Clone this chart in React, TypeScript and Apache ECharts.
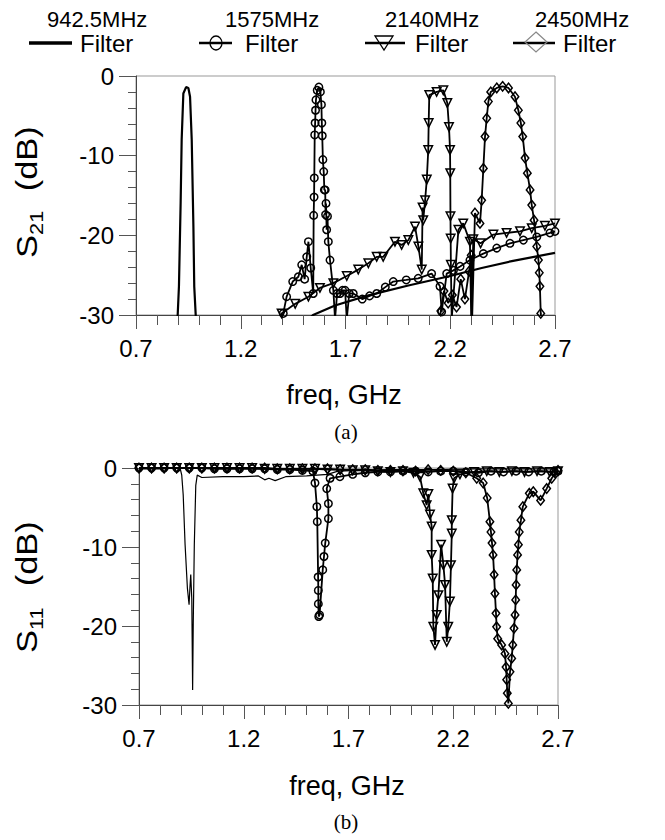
import React, { useEffect, useRef } from 'react';
import * as echarts from 'echarts';

// ---- axis / label data ----
const X0 = 0.7; // first frequency tick (GHz)
const xTickLabels = ['0.7', '1.2', '1.7', '2.2', '2.7'];
const legendFreqs = ['942.5MHz', '1575MHz', '2140MHz', '2450MHz'];
const legendName = 'Filter';
const xName = 'freq, GHz';
const captions = ['(a)', '(b)'];

// ---- S21 (dB) vs freq (GHz) ----
const s21_942 = [
  [0.70, -60], [0.85, -45], [0.899, -30], [0.905, -26.4], [0.913, -16], [0.918, -8], [0.926, -2.2],
  [0.939, -1.4], [0.950, -1.5], [0.958, -2.6], [0.966, -8], [0.974, -18.9], [0.978, -26.4], [0.985, -30],
  [1.00, -40], [1.30, -36], [1.545, -30], [1.65, -28.8], [1.80, -27.6], [2.00, -26.3], [2.20, -25.1],
  [2.35, -24.1], [2.50, -23.2], [2.70, -22.2],
];
const s21_1575 = [
  [1.30, -40], [1.403, -29.8], [1.419, -27.7], [1.448, -25.8], [1.475, -25.2], [1.491, -23.7], [1.505, -25.5],
  [1.515, -22.7], [1.523, -20.8], [1.534, -24.1], [1.546, -27.3], [1.548, -17.5], [1.550, -15.2], [1.551, -12.8],
  [1.553, -7.4], [1.555, -5.9], [1.557, -4.3], [1.559, -3.0], [1.565, -1.8], [1.573, -1.4], [1.580, -2.0],
  [1.585, -3.6], [1.587, -5.9], [1.589, -7.5], [1.592, -10.5], [1.596, -12.0], [1.599, -14.3], [1.603, -14.3],
  [1.605, -17.4], [1.607, -16.0], [1.610, -19.3], [1.614, -17.6], [1.618, -20.8], [1.626, -23.1], [1.642, -26.9],
  [1.650, -30.5], [1.660, -27.3], [1.674, -27.3], [1.686, -26.9], [1.698, -26.9], [1.706, -30.5], [1.718, -27.3],
  [1.737, -27.3], [1.78, -28.0], [1.815, -27.6], [1.849, -27.3], [1.89, -26.5], [1.928, -25.8], [1.99, -25.6],
  [2.047, -25.4], [2.111, -24.8], [2.151, -26.4], [2.159, -29.6], [2.183, -24.8], [2.215, -24.4], [2.247, -23.9],
  [2.294, -23.1], [2.358, -22.3], [2.422, -21.6], [2.485, -21.0], [2.549, -20.6], [2.613, -20.2], [2.676, -19.7],
  [2.70, -19.5],
];
const s21_2140 = [
  [1.30, -40], [1.395, -29.8], [1.46, -28.6], [1.523, -27.7], [1.578, -26.6], [1.642, -26.0], [1.706, -25.1],
  [1.761, -24.3], [1.809, -23.5], [1.849, -22.7], [1.880, -22.7], [1.936, -20.8], [1.968, -21.2], [2.000, -20.6],
  [2.032, -18.9], [2.048, -21.4], [2.064, -24.3], [2.068, -16.5], [2.071, -18.1], [2.080, -15.6], [2.088, -13.0],
  [2.095, -9.3], [2.097, -5.9], [2.100, -2.4], [2.135, -2.0], [2.167, -1.8], [2.186, -3.4], [2.194, -6.4],
  [2.199, -9.3], [2.200, -12.2], [2.201, -17.6], [2.202, -20.4], [2.203, -23.7], [2.207, -30.5], [2.239, -19.3],
  [2.262, -18.5], [2.294, -20.8], [2.300, -30.5], [2.310, -20.5], [2.345, -21.0], [2.406, -19.9], [2.469, -19.7],
  [2.533, -19.5], [2.589, -19.1], [2.652, -18.8], [2.70, -18.5],
];
const s21_2450 = [
  [2.05, -40], [2.14, -33], [2.155, -29.5], [2.17, -27.0], [2.19, -28.5], [2.21, -27.5], [2.23, -29.0],
  [2.25, -25.5], [2.27, -28.0], [2.29, -24.5], [2.30, -22.5], [2.304, -31], [2.318, -17.2], [2.342, -18.5],
  [2.350, -15.6], [2.358, -11.6], [2.366, -7.6], [2.374, -5.3], [2.382, -3.2], [2.393, -2.0], [2.422, -1.5],
  [2.450, -1.3], [2.478, -1.5], [2.509, -2.6], [2.525, -4.3], [2.537, -5.9], [2.546, -7.6], [2.557, -10.3],
  [2.568, -12.2], [2.581, -14.3], [2.589, -16.2], [2.600, -18.1], [2.613, -21.4], [2.621, -23.1], [2.625, -24.7],
  [2.628, -26.4], [2.632, -29.8], [2.66, -38], [2.70, -45],
];

// ---- S11 (dB) vs freq (GHz) ----
const s11_942 = [
  [0.70, -0.1], [0.80, -0.1], [0.896, 0], [0.904, -0.9], [0.911, -3.4], [0.920, -9.7], [0.931, -15.2],
  [0.939, -17.3], [0.943, -15.2], [0.947, -13.5], [0.952, -16.6], [0.956, -28.1], [0.959, -19.5], [0.964, -9.7],
  [0.971, -2.2], [0.978, -0.9], [1.00, -1.2], [1.10, -1.1], [1.20, -1.1], [1.27, -1.0], [1.30, -1.5],
  [1.32, -1.3], [1.35, -1.6], [1.40, -1.1], [1.50, -1.0], [1.55, -0.9], [1.60, -0.8], [1.65, -0.4],
  [1.75, -0.3], [1.90, -0.2], [2.10, -0.2], [2.30, -0.1], [2.50, -0.1], [2.70, -0.1],
];
const s11_1575 = [
  [0.70, 0], [0.76, 0], [0.82, 0], [0.88, 0], [0.94, 0], [1.00, 0], [1.06, -0.1], [1.12, -0.1], [1.18, -0.1],
  [1.24, -0.1], [1.30, -0.1], [1.36, -0.2], [1.42, -0.2], [1.48, -0.3], [1.53, -0.4], [1.540, -1.9],
  [1.549, -4.9], [1.551, -6.8], [1.555, -13.8], [1.556, -15.5], [1.556, -17.2], [1.558, -18.8], [1.562, -18.6],
  [1.577, -12.9], [1.583, -11.2], [1.589, -9.5], [1.604, -6.4], [1.604, -4.5], [1.596, -2.6], [1.612, -1.3],
  [1.659, -1.1], [1.72, -0.8], [1.78, -0.6], [1.84, -0.5], [1.90, -0.5], [1.96, -0.4], [2.02, -0.4],
  [2.08, -0.5], [2.14, -0.4], [2.20, -0.4], [2.26, -0.5], [2.32, -0.6], [2.38, -0.4], [2.44, -0.5],
  [2.50, -0.4], [2.56, -0.5], [2.62, -0.4], [2.68, -0.5], [2.70, -0.4],
];
const s11_2140 = [
  [0.70, 0], [0.76, 0], [0.82, 0], [0.88, 0], [0.94, 0], [1.00, 0], [1.06, 0], [1.12, 0], [1.18, 0], [1.24, 0],
  [1.30, -0.1], [1.36, -0.1], [1.42, -0.1], [1.48, -0.1], [1.54, -0.1], [1.60, -0.2], [1.66, -0.2], [1.72, -0.3],
  [1.78, -0.3], [1.84, -0.4], [1.90, -0.5], [1.96, -0.4], [2.01, -0.6], [2.041, -1.1], [2.057, -3.2],
  [2.073, -4.7], [2.081, -3.3], [2.089, -5.9], [2.097, -7.4], [2.097, -11.0], [2.102, -14.0], [2.105, -20.1],
  [2.113, -22.4], [2.121, -18.6], [2.129, -16.1], [2.142, -9.7], [2.153, -12.3], [2.161, -14.8], [2.169, -22.0],
  [2.176, -20.1], [2.184, -16.9], [2.189, -12.3], [2.193, -8.3], [2.193, -6.6], [2.197, -2.6], [2.204, -1.3],
  [2.232, -0.8], [2.30, -0.5], [2.36, -0.4], [2.42, -0.5], [2.48, -0.4], [2.54, -0.5], [2.60, -0.4],
  [2.66, -0.5], [2.70, -0.4],
];
const s11_2450 = [
  [0.70, 0], [0.76, 0], [0.82, 0], [0.88, 0], [0.94, 0], [1.00, 0], [1.06, 0], [1.12, 0], [1.18, 0], [1.24, 0],
  [1.30, 0], [1.36, -0.1], [1.42, -0.1], [1.48, -0.1], [1.54, -0.1], [1.60, -0.1], [1.66, -0.2], [1.72, -0.2],
  [1.78, -0.2], [1.84, -0.3], [1.90, -0.3], [1.96, -0.3], [2.02, -0.4], [2.08, -0.2], [2.14, -0.3], [2.20, -0.4],
  [2.26, -0.6], [2.312, -1.3], [2.343, -1.9], [2.362, -3.8], [2.375, -6.8], [2.380, -8.1], [2.385, -9.5],
  [2.390, -11.0], [2.395, -13.5], [2.399, -15.9], [2.404, -18.4], [2.407, -20.1], [2.412, -21.6], [2.431, -22.4],
  [2.447, -23.5], [2.452, -25.2], [2.455, -26.8], [2.458, -28.5], [2.463, -29.8], [2.471, -25.8], [2.479, -24.1],
  [2.484, -22.4], [2.490, -20.3], [2.495, -18.6], [2.498, -16.7], [2.500, -14.8], [2.503, -12.9], [2.507, -11.0],
  [2.511, -9.7], [2.515, -8.1], [2.523, -6.6], [2.532, -4.9], [2.563, -3.2], [2.582, -3.0], [2.617, -4.1],
  [2.646, -2.6], [2.670, -1.3], [2.690, -0.6], [2.70, -0.3],
];

const FONT = '"Liberation Sans", Arial, sans-serif';
const SERIF = '"Liberation Serif", "Times New Roman", serif';

type Mk = { symbol: string; size: any; rotate?: number; width: number };
const MARK: Record<string, Mk> = {
  plain: { symbol: 'none', size: 0, width: 2 },
  circle: { symbol: 'circle', size: 7.5, width: 1.8 },
  tri: { symbol: 'triangle', size: 8.5, rotate: 180, width: 1.8 },
  dia: { symbol: 'diamond', size: [7.5, 9.5], width: 1.8 },
};

function mkSeries(data: number[][], idx: number, kind: string, width?: number) {
  const m = MARK[kind];
  return {
    type: 'line',
    xAxisIndex: idx,
    yAxisIndex: idx,
    data: data.map(([f, v]) => [f - X0, v]),
    symbol: m.symbol,
    symbolSize: m.size,
    symbolRotate: m.rotate || 0,
    showSymbol: m.symbol !== 'none',
    showAllSymbol: true,
    clip: true,
    silent: true,
    lineStyle: { color: '#000', width: width ?? m.width },
    itemStyle: { color: 'rgba(0,0,0,0)', borderColor: '#000', borderWidth: 1.5 },
    emphasis: { disabled: true },
  };
}

function xAxisCfg(gridIndex: number) {
  return {
    type: 'value', gridIndex, min: 0, max: 2, interval: 0.5,
    axisLine: { onZero: false, lineStyle: { color: '#444', width: 1 } },
    axisTick: { show: true, length: 14, lineStyle: { color: '#555' } },
    minorTick: { show: true, splitNumber: 5, length: 10, lineStyle: { color: '#555' } },
    splitLine: { show: false },
    axisLabel: {
      margin: 21, color: '#000', fontSize: 24, fontFamily: FONT,
      formatter: (v: number) => xTickLabels[Math.round(v / 0.5)] ?? '',
    },
  };
}
function yAxisCfg(gridIndex: number) {
  return {
    type: 'value', gridIndex, min: -30, max: 0, interval: 10,
    axisLine: { show: true, onZero: false, lineStyle: { color: '#444', width: 1 } },
    axisTick: { show: true, length: 17, lineStyle: { color: '#555' } },
    minorTick: { show: true, splitNumber: 5, length: 8, lineStyle: { color: '#555' } },
    splitLine: { show: false },
    axisLabel: { margin: 22, color: '#000', fontSize: 24, fontFamily: FONT },
  };
}

function txt(x: number, y: number, text: string, size: number, align = 'left', family = FONT) {
  return {
    type: 'text', x, y, silent: true,
    style: {
      text, font: `${size}px ${family}`, fill: '#000',
      textAlign: align, align, textVerticalAlign: 'middle', verticalAlign: 'middle',
    },
  };
}

function yName(x: number, y: number, sub: string) {
  return {
    type: 'group', x, y, rotation: Math.PI / 2, scaleX: 1.15, silent: true,
    children: [
      txt(0, 0, 'S', 30),
      txt(20, 9, sub, 19),
      txt(58, 0, '(dB)', 30),
    ],
  };
}

export default function App() {
  const ref = useRef<HTMLDivElement>(null);
  useEffect(() => {
    if (!ref.current) return;
    const chart = echarts.init(ref.current, null, { renderer: 'svg' });
    const legendX = [
      { label: 47, lineA: 29, lineB: 72, name: 80 },
      { label: 225, lineA: 199, lineB: 232, name: 245 },
      { label: 385, lineA: 365, lineB: 405, name: 415 },
      { label: 535, lineA: 513, lineB: 555, name: 563 },
    ];
    const LY = 43;
    const legendEls: any[] = [];
    legendX.forEach((p, i) => {
      legendEls.push(txt(p.label, 19, legendFreqs[i], 22));
      legendEls.push(txt(p.name, LY, legendName, 24));
      legendEls.push({
        type: 'line', silent: true,
        shape: { x1: p.lineA, y1: LY, x2: p.lineB, y2: LY },
        style: { stroke: '#000', lineWidth: i === 0 ? 3.5 : 2.5 },
      });
    });
    legendEls.push({ type: 'ellipse', silent: true, shape: { cx: 216, cy: LY, rx: 6, ry: 7 }, style: { fill: 'rgba(0,0,0,0)', stroke: '#000', lineWidth: 1.3 } });
    legendEls.push({ type: 'polygon', silent: true, shape: { points: [[375, 36], [393, 36], [384, 50]] }, style: { fill: 'rgba(0,0,0,0)', stroke: '#000', lineWidth: 1.3 } });
    legendEls.push({ type: 'polygon', silent: true, shape: { points: [[536, 32], [547, 42], [536, 52], [525, 42]] }, style: { fill: 'rgba(0,0,0,0)', stroke: '#888', lineWidth: 1.2 } });

    chart.setOption({
      animation: false,
      backgroundColor: '#fff',
      grid: [
        { left: 136, top: 76, width: 419, height: 239, show: true, borderColor: '#999', borderWidth: 1, backgroundColor: 'transparent' },
        { left: 139, top: 468, width: 419, height: 237, show: true, borderColor: '#999', borderWidth: 1, backgroundColor: 'transparent' },
      ],
      xAxis: [xAxisCfg(0), xAxisCfg(1)],
      yAxis: [yAxisCfg(0), yAxisCfg(1)],
      series: [
        mkSeries(s21_942, 0, 'plain', 2.2),
        mkSeries(s21_1575, 0, 'circle'),
        mkSeries(s21_2140, 0, 'tri'),
        mkSeries(s21_2450, 0, 'dia'),
        mkSeries(s11_942, 1, 'plain', 1.2),
        mkSeries(s11_1575, 1, 'circle'),
        mkSeries(s11_2140, 1, 'tri'),
        mkSeries(s11_2450, 1, 'dia'),
      ],
      graphic: [
        ...legendEls,
        yName(27, 258, '21'),
        yName(27, 653, '11'),
        txt(344, 395, xName, 27, 'center'),
        txt(347, 786, xName, 27, 'center'),
        txt(346, 432, captions[0], 21, 'center', SERIF),
        txt(346, 822, captions[1], 21, 'center', SERIF),
      ],
    });
    return () => chart.dispose();
  }, []);
  return (
    <div
      ref={ref}
      style={{ position: 'absolute', left: 0, top: 0, width: 665, height: 840, background: '#fff' }}
    />
  );
}
